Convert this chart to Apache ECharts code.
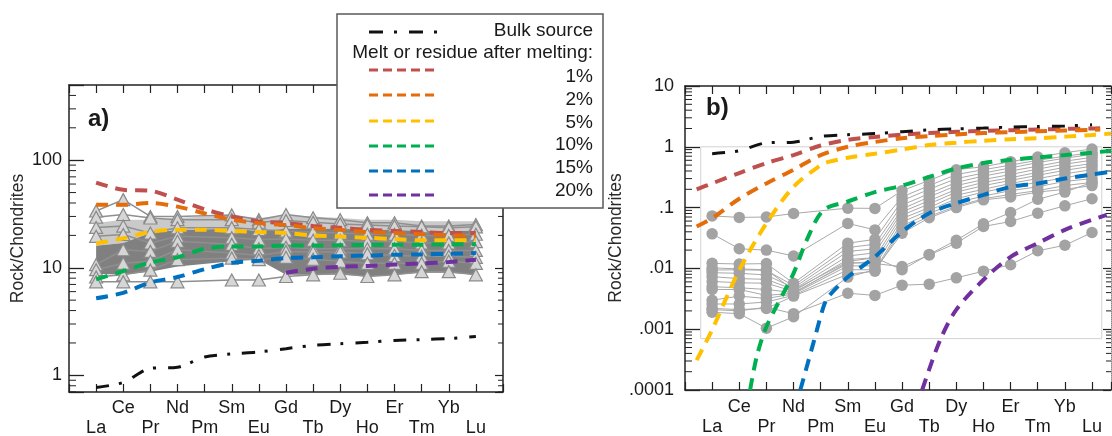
<!DOCTYPE html>
<html><head><meta charset="utf-8">
<script src="https://cdn.jsdelivr.net/npm/echarts@6/dist/echarts.min.js"></script>
<style>html,body{margin:0;padding:0;background:#fff;}#c{width:1112px;height:436px;}</style>
</head><body><div id="c"></div>
<script>
// ---------- categories / labels ----------
const elements = ['La','Ce','Pr','Nd','Pm','Sm','Eu','Gd','Tb','Dy','Ho','Er','Tm','Yb','Lu'];
const legendLabels = ['1%','2%','5%','10%','15%','20%'];
const bulkLabel = 'Bulk source';
const legendTitle = 'Melt or residue after melting:';
const yTitle = 'Rock/Chondrites';

// ---------- panel a: model curves (values at La..Lu) ----------
const bulkSource = [0.77,0.86,1.16,1.19,1.48,1.58,1.65,1.77,1.9,1.97,2.03,2.11,2.15,2.2,2.3];
const aMelt1  = [62,53,52,43,35,30,27,26,24.5,23.5,22.5,22,21.5,21,21];
const aMelt2  = [38.5,38.5,40,37,32,28,26,25,23.3,22.5,21.5,21,20.5,20,20];
const aMelt5  = [16.8,18.8,21.5,22.6,22.6,22,21.5,21,20,19.5,19,18.5,18,18,18];
const aMelt10 = [7.8,9.3,11.2,12.5,15,15.8,15.8,16.1,16.1,16.2,16.3,16.4,16.4,16.5,16.6];
const aMelt15 = [5.2,5.85,7.3,8.2,9.7,11.1,11.6,12.3,12.5,12.8,13,13.2,13.3,13.5,13.7];
const aMelt20 = [null,null,null,null,null,null,null,9.0,9.8,10.2,10.4,10.7,11,11.3,11.9];

// ---------- panel a: sample envelopes and samples ----------
const aLightTop   = [26,28,28,29,null,31,29,31,30,29,28,28,27,27,27];
const aDarkTop    = [16,17,21,22.5,null,23,22,23,23,23,22.5,22.5,22,22,22];
const aDarkBottom = [8.8,8.6,9.2,10.3,null,11.5,11.9,8.6,8.6,8.6,8.3,8.6,9,9,8.6];
const aS1 = [33.7,43,30,30,null,31,28,31.3,29.2,28,26.2,26.2,24.4,24.4,25.2];
const aS2 = [29.5,31.3,29,28,null,28,26.5,27.5,26.5,25.5,25,24.5,24,23.5,24];
const aS3 = [23.7,24.4,21,23.5,null,23.5,22.7,21.9,21.5,21,20.5,20.5,20,20,20.5];
const aS4 = [19.6,20.4,17,19.6,null,19,18.3,18.5,18,18,17.5,17.5,17,17,17.5];
const aS5 = [10.7,14.7,14.2,17.6,null,16.5,15,15.5,15,15,15,15,14.5,14.5,14.5];
const aS6 = [9.6,11,11.5,14.7,null,13.7,13,14.2,14,14,13.5,13,12.8,12.8,12.5];
const aS7 = [8.2,8.6,9.5,11.9,null,12.3,11.9,12.5,12,11.5,11,11,11,11.5,11];
const aS8 = [7.4,7.4,7.4,7.4,null,7.7,7.7,8.3,8.6,8.9,8.3,8.6,9.2,9.2,8.6];

// ---------- panel b: model curves ([element position, value]) ----------
const bMelt1  = [[0.43,0.2],[1,0.25],[2,0.37],[3,0.54],[4,0.73],[5,1.05],[6,1.3],[7,1.45],[8,1.58],[9,1.68],[10,1.76],[11,1.83],[12,1.88],[13,1.93],[14,1.97],[15,2.0],[15.3,2.02]];
const bMelt2  = [[0.43,0.049],[1,0.067],[2,0.14],[3,0.25],[4,0.42],[5,0.73],[6,1.0],[7,1.2],[8,1.38],[9,1.5],[10,1.6],[11,1.68],[12,1.75],[13,1.8],[14,1.85],[15,1.9],[15.3,1.92]];
const bMelt5  = [[0.43,0.00031],[1,0.00098],[2,0.0094],[3,0.055],[4,0.22],[5,0.5],[5.25,0.56],[6,0.66],[7,0.77],[8,0.9],[9,1.07],[10,1.17],[11,1.26],[12,1.33],[13,1.38],[14,1.47],[15,1.56],[15.7,1.65]];
const bMelt10 = [[2.4,0.0001],[2.64,0.00035],[3,0.0011],[4,0.0083],[4.49,0.0295],[5.1,0.091],[6,0.126],[7,0.18],[8,0.23],[9,0.32],[10,0.44],[11,0.54],[12,0.61],[13,0.67],[14,0.73],[15,0.8],[15.7,0.86]];
const bMelt15 = [[4.25,0.0001],[4.73,0.00059],[5.1,0.0023],[5.28,0.0034],[6,0.0072],[7,0.0155],[8,0.04],[9,0.081],[10,0.118],[11,0.162],[12,0.22],[13,0.25],[14,0.3],[15,0.35],[15.7,0.39]];
const bMelt20 = [[8.74,0.0001],[9.4,0.00066],[10,0.0021],[11,0.0065],[12,0.0155],[13,0.026],[14,0.043],[15,0.063],[15.54,0.076]];

// ---------- panel b: samples (La..Lu, Pm not analysed) ----------
const bS1  = [0.073,0.069,0.07,0.08,null,0.098,0.097,0.19,0.28,0.42,0.47,0.57,0.68,0.8,0.92];
const bS2  = [0.037,0.021,0.02,0.016,null,0.055,0.043,0.15,0.23,0.35,0.42,0.5,0.6,0.7,0.8];
const bS3  = [0.0121,0.0118,0.012,0.0057,null,0.026,0.03,0.13,0.2,0.3,0.37,0.45,0.55,0.65,0.75];
const bS4  = [0.0094,0.0095,0.0093,0.0052,null,0.022,0.025,0.11,0.17,0.26,0.33,0.4,0.48,0.58,0.67];
const bS5  = [0.0085,0.0083,0.0078,0.0048,null,0.019,0.021,0.095,0.15,0.23,0.29,0.35,0.43,0.52,0.6];
const bS6  = [0.0073,0.0068,0.0066,0.0045,null,0.016,0.018,0.085,0.13,0.2,0.26,0.31,0.38,0.46,0.53];
const bS7  = [0.0061,0.0058,0.0057,0.0042,null,0.014,0.015,0.075,0.115,0.18,0.23,0.28,0.34,0.41,0.48];
const bS8  = [0.005,0.0048,0.0045,0.004,null,0.012,0.013,0.066,0.1,0.16,0.2,0.25,0.3,0.36,0.42];
const bS9  = [0.003,0.0035,0.0032,0.0038,null,0.011,0.011,0.058,0.09,0.14,0.18,0.22,0.26,0.31,0.37];
const bS10 = [0.0026,0.0026,0.0028,0.0036,null,0.0095,0.0095,0.05,0.08,0.12,0.155,0.19,0.22,0.27,0.3];
const bS11 = [0.0022,0.0021,0.0022,0.0035,null,0.008,0.009,0.044,0.072,0.105,0.14,0.165,0.19,0.23,0.26];
const bS12 = [0.0019,0.0018,0.00104,0.0016,null,0.0072,0.0095,0.038,0.068,0.1,0.134,0.15,0.18,0.2,0.23];
const bS13 = [0.0045,0.0045,0.0036,0.0039,null,0.0125,0.012,0.0107,0.0166,0.026,0.049,0.059,0.081,0.107,0.14];
const bS14 = [0.0102,0.0098,0.0095,0.0044,null,0.013,0.015,0.0095,0.017,0.029,0.054,0.083,0.137,0.18,0.26];
const bS15 = [0.0021,0.002,0.0023,0.0018,null,0.0039,0.0036,0.0053,0.0055,0.007,0.009,0.0115,0.0195,0.024,0.039];

// ---------- styles ----------
const meltColors = ['#c0504d','#e46c0a','#ffc000','#00b050','#0070c0','#7030a0'];
const FONT = "'Liberation Sans', Arial, Helvetica, sans-serif";
const TXT = '#1a1a1a';
const AXC = '#222';
const DASH = [12, 8];
const DASHDOT = [13, 10, 3, 12];

const toPairs = arr => arr.map((v, i) => [i + 1, v]);

function xLabelFmt(v) {
  const i = Math.round(v);
  if (Math.abs(v - i) > 1e-6 || i < 1 || i > elements.length) return '';
  return (i % 2 === 1 ? '\n' : '') + elements[i - 1];
}
function yLabelA(v) {
  const l = Math.log10(v), e = Math.round(l);
  if (Math.abs(l - e) > 1e-6) return '';
  return String(Math.pow(10, e));
}
function yLabelB(v) {
  const l = Math.log10(v), e = Math.round(l);
  if (Math.abs(l - e) > 1e-6) return '';
  if (e >= 0) return String(Math.pow(10, e));
  return '.' + '0'.repeat(-e - 1) + '1';
}

function xAxes(gridIndex, max, margin) {
  const common = {
    type: 'value', gridIndex, min: 0, max, interval: 1,
    splitLine: { show: false },
    axisLine: { show: true, onZero: false, lineStyle: { color: AXC, width: 1.5 } },
    axisTick: { show: true, inside: true, length: 8, lineStyle: { color: AXC, width: 1.2 } }
  };
  return [
    Object.assign({}, common, { position: 'bottom',
      axisLabel: { show: true, margin, formatter: xLabelFmt, fontSize: 18, lineHeight: 20,
                   color: TXT, fontFamily: FONT, hideOverlap: false, showMinLabel: true, showMaxLabel: true } }),
    Object.assign({}, common, { position: 'top', axisLabel: { show: false } })
  ];
}
function yAxes(gridIndex, min, max, fmt, margin, nameGap, rightLine) {
  return [
    { type: 'log', logBase: 10, gridIndex, min, max, position: 'left',
      name: yTitle, nameLocation: 'middle', nameGap,
      nameTextStyle: { fontSize: 17.5, color: '#2a2a2a', fontFamily: FONT },
      splitLine: { show: false },
      axisLine: { show: true, onZero: false, lineStyle: { color: AXC, width: 1.5 } },
      axisTick: { show: true, inside: true, length: 15, lineStyle: { color: AXC, width: 1.3 } },
      axisLabel: { show: true, margin, formatter: fmt, fontSize: 18, color: TXT, fontFamily: FONT,
                   showMinLabel: true, showMaxLabel: true, hideOverlap: false } },
    { type: 'log', logBase: 10, gridIndex, min, max, position: 'right',
      splitLine: { show: false },
      axisLine: { show: true, onZero: false, lineStyle: rightLine || { color: AXC, width: 1.5 } },
      axisTick: { show: true, inside: true, length: 8, lineStyle: { color: AXC, width: 1.2 } },
      axisLabel: { show: false } }
  ];
}

function minorValues(eMin, eMax, lo, hi) {
  const out = [];
  for (let e = eMin; e <= eMax; e++) for (let k = 2; k <= 9; k++) {
    const v = k * Math.pow(10, e);
    if (v > lo && v < hi) out.push([0, v]);
  }
  return out;
}
function minorTickSeries(axisIdx, xMin, xMax, vals) {
  return {
    type: 'custom', xAxisIndex: axisIdx, yAxisIndex: axisIdx, silent: true, z: 5,
    data: vals,
    renderItem: (params, api) => {
      const v = api.value(1);
      const p = api.coord([xMin, v]);
      const q = api.coord([xMax, v]);
      return { type: 'group', children: [
        { type: 'line', shape: { x1: p[0], y1: p[1], x2: p[0] + 7, y2: p[1] }, style: { stroke: AXC, lineWidth: 1 } },
        { type: 'line', shape: { x1: q[0], y1: q[1], x2: q[0] - 5, y2: q[1] }, style: { stroke: AXC, lineWidth: 1 } }
      ] };
    }
  };
}
function bandSeries(top, bottom, color, z) {
  return {
    type: 'custom', xAxisIndex: 0, yAxisIndex: 0, silent: true, z,
    data: [[1, 10]],
    renderItem: (params, api) => {
      const up = [], lo = [];
      top.forEach((v, i) => {
        if (v != null && bottom[i] != null) {
          up.push(api.coord([i + 1, v]));
          lo.push(api.coord([i + 1, bottom[i]]));
        }
      });
      return { type: 'polygon', shape: { points: up.concat(lo.reverse()) }, style: { fill: color } };
    }
  };
}
function modelLine(axisIdx, data, color, z) {
  return { type: 'line', xAxisIndex: axisIdx, yAxisIndex: axisIdx, data, symbol: 'none', smooth: 0.3,
           connectNulls: false, z, silent: true,
           lineStyle: { color, width: 4, type: DASH, cap: 'butt' } };
}
function bulkLine(axisIdx, extra) {
  return Object.assign({ type: 'line', xAxisIndex: axisIdx, yAxisIndex: axisIdx, data: toPairs(bulkSource),
           symbol: 'none', smooth: 0.3, z: 8, silent: true,
           lineStyle: { color: '#111', width: 3, type: DASHDOT } }, extra || {});
}
function sampleA(arr) {
  return { type: 'line', xAxisIndex: 0, yAxisIndex: 0, data: toPairs(arr), connectNulls: true,
           symbol: 'triangle', symbolSize: [13, 12], z: 4, silent: true,
           lineStyle: { color: '#8f8f8f', width: 1.5 },
           itemStyle: { color: '#d6d6d6', borderColor: '#8a8a8a', borderWidth: 1.2 } };
}
function sampleB(arr) {
  return { type: 'line', xAxisIndex: 2, yAxisIndex: 2, data: toPairs(arr), connectNulls: true,
           symbol: 'circle', symbolSize: 11.5, z: 4, silent: true,
           lineStyle: { color: '#a9a9a9', width: 1 },
           itemStyle: { color: '#a3a3a3', borderWidth: 0 } };
}

const aSamples = [aS1,aS2,aS3,aS4,aS5,aS6,aS7,aS8];
const bSamples = [bS1,bS2,bS3,bS4,bS5,bS6,bS7,bS8,bS9,bS10,bS11,bS12,bS13,bS14,bS15];
const aMelts = [aMelt1,aMelt2,aMelt5,aMelt10,aMelt15,aMelt20];
const bMelts = [bMelt1,bMelt2,bMelt5,bMelt10,bMelt15,bMelt20];

const series = [];
series.push(bandSeries(aLightTop, aDarkTop, '#cacaca', 2));
series.push(bandSeries(aDarkTop, aDarkBottom, '#808080', 3));
aSamples.forEach(s => series.push(sampleA(s)));
aMelts.forEach((m, i) => series.push(modelLine(0, toPairs(m), meltColors[i], 6 + (i === 1 ? 1 : 0))));
series.push(bulkLine(0));
series.push(minorTickSeries(0, 0, 16, minorValues(-1, 2, 0.7, 500)));

bSamples.forEach(s => series.push(sampleB(s)));
bMelts.forEach((m, i) => series.push(modelLine(2, m, meltColors[i], 6 + (i === 1 ? 1 : 0))));
series.push(bulkLine(2, {
  markArea: { silent: true, itemStyle: { color: 'rgba(0,0,0,0)', borderColor: '#d2d2d2', borderWidth: 1 },
              data: [[{ coord: [0.58, 1] }, { coord: [15.36, 0.0007] }]] }
}));
series.push(minorTickSeries(2, 0, 15.7, minorValues(-4, 0, 0.0001, 10)));

// ---------- legend box (graphic) ----------
const legendLineY = [70, 95, 121, 146, 171, 195];
const legendTextY = [77, 100, 123, 145, 168, 191];
const graphics = [
  { type: 'rect', z: 100, shape: { x: 337, y: 14, width: 266, height: 194 },
    style: { fill: '#fff', stroke: '#5a5a5a', lineWidth: 1.5 } },
  { type: 'line', z: 101, shape: { x1: 369, y1: 32, x2: 438, y2: 32 },
    style: { stroke: '#111', lineWidth: 3, lineDash: [14, 11, 3, 12] } },
  { type: 'text', z: 101, x: 593, y: 31,
    style: { text: bulkLabel, fontSize: 19, fontFamily: FONT, fill: TXT, align: 'right', verticalAlign: 'middle',
             textAlign: 'right', textVerticalAlign: 'middle' } },
  { type: 'text', z: 101, x: 593, y: 53,
    style: { text: legendTitle, fontSize: 19, fontFamily: FONT, fill: TXT, align: 'right', verticalAlign: 'middle',
             textAlign: 'right', textVerticalAlign: 'middle' } },
  { type: 'text', z: 101, x: 88, y: 119,
    style: { text: 'a)', fontSize: 24, fontWeight: 'bold', fontFamily: FONT, fill: TXT, align: 'left', verticalAlign: 'middle',
             textAlign: 'left', textVerticalAlign: 'middle' } },
  { type: 'text', z: 101, x: 706, y: 108,
    style: { text: 'b)', fontSize: 24, fontWeight: 'bold', fontFamily: FONT, fill: TXT, align: 'left', verticalAlign: 'middle',
             textAlign: 'left', textVerticalAlign: 'middle' } }
];
legendLabels.forEach((lab, i) => {
  graphics.push({ type: 'line', z: 101, shape: { x1: 369, y1: legendLineY[i], x2: 435, y2: legendLineY[i] },
                  style: { stroke: meltColors[i], lineWidth: 3, lineDash: [9, 5] } });
  graphics.push({ type: 'text', z: 101, x: 593, y: legendTextY[i],
                  style: { text: lab, fontSize: 19, fontFamily: FONT, fill: TXT, align: 'right', verticalAlign: 'middle',
                           textAlign: 'right', textVerticalAlign: 'middle' } });
});

const chart = echarts.init(document.getElementById('c'), null, { renderer: 'canvas' });
chart.setOption({
  animation: false,
  backgroundColor: '#fff',
  textStyle: { fontFamily: FONT },
  grid: [
    { left: 69, top: 85, width: 434, height: 307, containLabel: false, outerBoundsMode: 'none' },
    { left: 685, top: 86, width: 426, height: 304, containLabel: false, outerBoundsMode: 'none' }
  ],
  xAxis: [].concat(xAxes(0, 16, 6), xAxes(1, 15.7, 7)),
  yAxis: [].concat(
    yAxes(0, 0.7, 500, yLabelA, 7, 42),
    yAxes(1, 0.0001, 10, yLabelB, 11, 52, { color: '#888', width: 1, type: 'dotted' })
  ),
  series,
  graphic: graphics
});
</script>
</body></html>
